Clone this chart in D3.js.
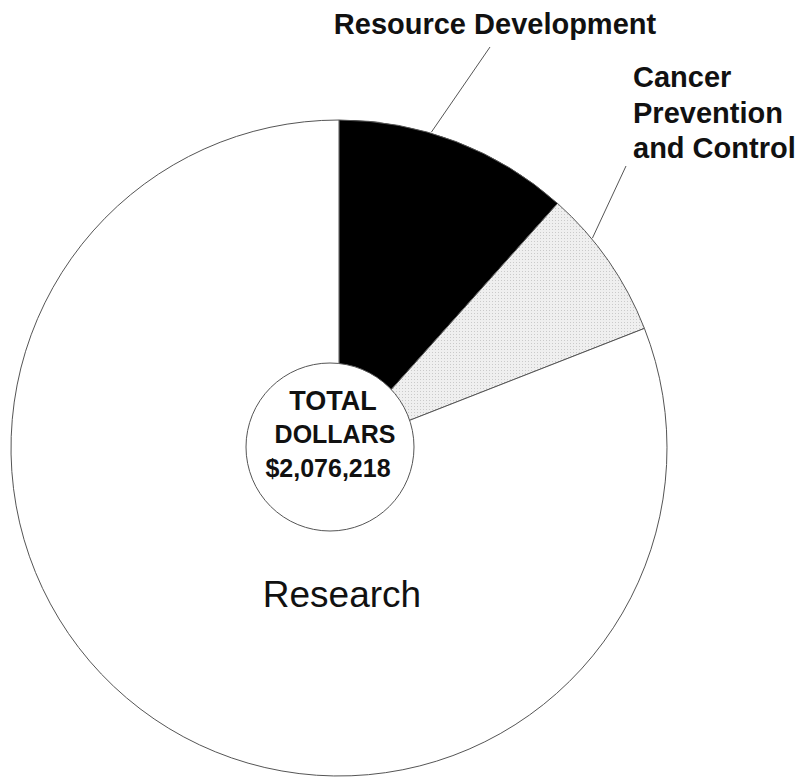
<!DOCTYPE html>
<html>
<head>
    <meta charset="UTF-8" />
    <title>Total Dollars</title>
    <script src="https://d3js.org/d3.v7.min.js"></script>
    <style>
        body { margin: 0; background: #fff; }
        text { font-family: "Liberation Sans", Arial, sans-serif; fill: #111; }
        .label { font-weight: bold; font-size: 29px; }
    </style>
</head>
<body>
    <svg id="chart" width="807" height="778"></svg>
    <script>
        // slice data (dollars), clockwise from 12 o'clock
        var categories = ['Resource Development', 'Cancer Prevention and Control', 'Research'];
        var dollars = [241000, 154700, 1680518];
        var totalLines = ['TOTAL', 'DOLLARS', '$2,076,218'];

        var svg = d3.select('#chart');
        var cx = 339, cy = 448, radius = 328;

        // halftone look for the grey slice
        var pat = svg.append('defs').append('pattern')
            .attr('id', 'dots')
            .attr('width', 3).attr('height', 3)
            .attr('patternUnits', 'userSpaceOnUse');
        pat.append('rect').attr('width', 3).attr('height', 3).attr('fill', '#efefef');
        pat.append('rect').attr('width', 1).attr('height', 1).attr('fill', '#cacaca');

        var fills = d3.scaleOrdinal()
            .domain(categories)
            .range(['#000', 'url(#dots)', '#fff']);

        var pie = d3.pie().sort(null).value(function (d) { return d; });
        var arcs = pie(dollars);
        var arc = d3.arc().innerRadius(0).outerRadius(radius);

        var g = svg.append('g').attr('transform', 'translate(' + cx + ',' + cy + ')');

        g.selectAll('path')
            .data(arcs)
            .enter()
            .append('path')
            .attr('d', arc)
            .attr('fill', function (d, i) { return fills(categories[i]); })
            .attr('stroke', '#555')
            .attr('stroke-width', 1);

        // leader lines: start on the rim, part way into the slice
        var leaders = [
            { i: 0, frac: 0.39, end: [490, 47] },
            { i: 1, frac: 0.32, end: [626, 166] }
        ];
        leaders.forEach(function (l) {
            var a = arcs[l.i];
            var ang = a.startAngle + (a.endAngle - a.startAngle) * l.frac;
            svg.append('line')
                .attr('x1', cx + Math.sin(ang) * (radius + 1))
                .attr('y1', cy - Math.cos(ang) * (radius + 1))
                .attr('x2', l.end[0])
                .attr('y2', l.end[1])
                .attr('stroke', '#555')
                .attr('stroke-width', 1);
        });

        // labels
        svg.append('text').attr('class', 'label')
            .attr('x', 495).attr('y', 34)
            .attr('text-anchor', 'middle')
            .text(categories[0]);

        var cpc = svg.append('text').attr('class', 'label')
            .attr('x', 633).attr('y', 87);
        ['Cancer', 'Prevention', 'and Control'].forEach(function (t, i) {
            cpc.append('tspan').attr('x', 633).attr('dy', i === 0 ? 0 : 35.5).text(t);
        });

        svg.append('text')
            .attr('x', 342).attr('y', 607)
            .attr('text-anchor', 'middle')
            .style('font-size', '37px')
            .text(categories[2]);

        // centre disc
        svg.append('circle')
            .attr('cx', 330).attr('cy', 447).attr('r', 84)
            .attr('fill', '#fff')
            .attr('stroke', '#555')
            .attr('stroke-width', 1);

        var sizes = [27, 25, 25];
        var ys = [410, 443, 477];
        var xs = [333, 335, 328];
        totalLines.forEach(function (t, i) {
            svg.append('text')
                .attr('x', xs[i]).attr('y', ys[i])
                .attr('text-anchor', 'middle')
                .style('font-weight', 'bold')
                .style('font-size', sizes[i] + 'px')
                .text(t);
        });
    </script>
</body>
</html>
